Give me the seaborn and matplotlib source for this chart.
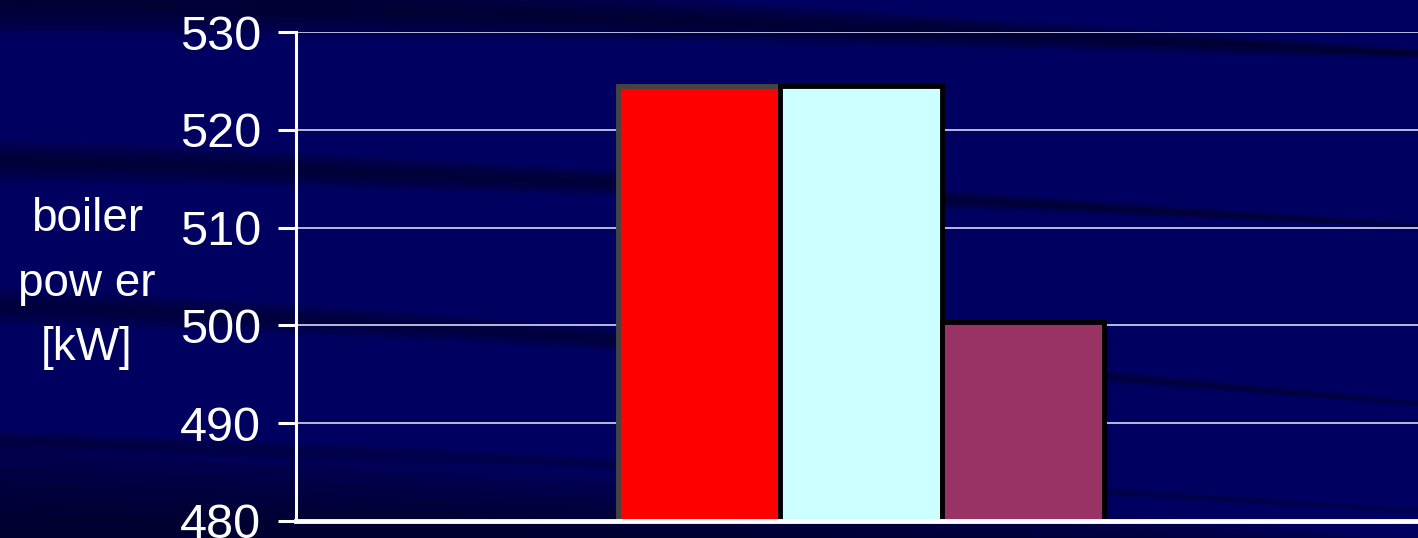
import matplotlib
matplotlib.use("Agg")
import matplotlib.pyplot as plt
import numpy as np
import pandas as pd
import seaborn as sns

# data
category = ["boiler"]
series = ["case 1", "case 2", "case 3"]
power_kw = [524.5, 524.5, 500.3]
bar_colors = ["#ff0000", "#ccffff", "#993366"]
y_ticks = [480, 490, 500, 510, 520, 530]

df = pd.DataFrame({"cat": category * len(series), "series": series, "power": power_kw})

sns.set_style("white")
plt.rcParams["font.family"] = ["Liberation Sans", "DejaVu Sans"]

navy = "#000060"
fig = plt.figure(figsize=(14.18, 5.38), dpi=100)
fig.patch.set_facecolor(navy)

# background streaks (decoration), fading out towards the right
bg = fig.add_axes([0, 0, 1, 1], zorder=-1)
bg.set_xlim(0, 1)
bg.set_ylim(1, 0)
bg.axis("off")
xs = np.linspace(0, 1, 200)
fade = np.clip(1 - xs / 0.75, 0.05, 1)
bands = [  # (y at left, y at right, half width left, half width right, alpha)
    (0.00, 0.10, 0.07, 0.01, 0.8),
    (0.30, 0.42, 0.04, 0.005, 0.7),
    (0.57, 0.75, 0.035, 0.005, 0.6),
    (0.98, 1.05, 0.17, 0.05, 0.9),
    (0.82, 0.95, 0.02, 0.005, 0.35),
]
for y0, y1, w0, w1, a in bands:
    c = y0 + (y1 - y0) * xs ** 1.3
    w = w0 + (w1 - w0) * xs
    for k in range(6):
        f = (k + 1) / 6
        bg.fill_between(xs, c - w * f, c + w * f, color="#000018", alpha=a / 6, lw=0)

ax = fig.add_axes([296 / 1418, 1 - 521 / 538, 1130 / 1418, 489 / 538])
ax.set_facecolor("none")

sns.barplot(data=df, x="cat", y="power", hue="series", palette=bar_colors,
            width=0.43, gap=0, legend=False, edgecolor="black", linewidth=3.5,
            saturation=1, ax=ax, zorder=3)
ax.patches[0].set_edgecolor("#444444")

ax.set_ylim(480, 530)
ax.set_xlim(-0.5, 0.5)
ax.set_yticks(y_ticks)
ax.set_yticklabels([str(t) for t in y_ticks], fontsize=35, color="white")
ax.set_xticks([])
ax.set_xlabel("")
ax.set_ylabel("boiler\npow er\n[kW]", fontsize=33, color="white", rotation=0,
              labelpad=0, linespacing=1.6, ha="center", va="center")
ax.yaxis.set_label_coords(-0.185, 0.485)

ax.grid(axis="y", color="#c8c8e8", linewidth=1.3, zorder=0)
ax.set_axisbelow(True)
for s in ["top", "right"]:
    ax.spines[s].set_visible(False)
ax.spines["left"].set_color("white")
ax.spines["left"].set_linewidth(2.2)
ax.spines["bottom"].set_color("white")
ax.spines["bottom"].set_linewidth(3.5)
ax.spines["bottom"].set_zorder(5)
ax.tick_params(axis="y", direction="out", length=13, width=2.2, color="white", pad=12, left=True)

fig.savefig("out.png", dpi=100, facecolor=fig.get_facecolor())
